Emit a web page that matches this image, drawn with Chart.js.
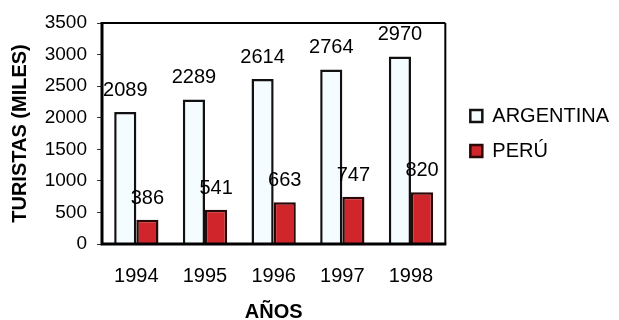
<!DOCTYPE html>
<html>
<head>
<meta charset="utf-8">
<script src="https://cdn.jsdelivr.net/npm/chart.js@4/dist/chart.umd.min.js"></script>
<style>
  html, body { margin: 0; padding: 0; background: #fff; }
  #wrap { width: 619px; height: 320px; }
</style>
</head>
<body>
<div id="wrap"><canvas id="chart" width="619" height="320"></canvas></div>
<script>
// Turistas (miles) por año
const years = ['1994', '1995', '1996', '1997', '1998'];
const argentina = [2089, 2289, 2614, 2764, 2970];
const peru = [386, 541, 663, 747, 820];
const yMin = 0;
const yMax = 3500;
const yStep = 500;

const FONT = '"Liberation Sans", Arial, sans-serif';
const INK = '#000';

// Box around the plot area
const plotFrame = {
  id: 'plotFrame',
  afterDatasetsDraw(chart) {
    const { ctx, chartArea: a } = chart;
    ctx.save();
    ctx.strokeStyle = '#000';
    ctx.lineWidth = 2;
    ctx.beginPath();
    ctx.moveTo(a.left, a.top); ctx.lineTo(a.right, a.top);
    ctx.moveTo(a.right, a.top); ctx.lineTo(a.right, a.bottom);
    ctx.stroke();
    ctx.lineWidth = 3;
    ctx.beginPath();
    ctx.moveTo(a.left, a.top - 1); ctx.lineTo(a.left, a.bottom);
    ctx.lineTo(a.right + 1, a.bottom);
    ctx.stroke();
    ctx.restore();
  }
};

// Value written above each bar
const valueLabels = {
  id: 'valueLabels',
  afterDatasetsDraw(chart) {
    const ctx = chart.ctx;
    ctx.save();
    ctx.font = '20px ' + FONT;
    ctx.fillStyle = INK;
    ctx.textAlign = 'center';
    ctx.textBaseline = 'alphabetic';
    chart.data.datasets.forEach((ds, i) => {
      chart.getDatasetMeta(i).data.forEach((bar, j) => {
        ctx.fillText(String(ds.data[j]), bar.x, bar.y - 16);
      });
    });
    ctx.restore();
  }
};

new Chart(document.getElementById('chart'), {
  type: 'bar',
  data: {
    labels: years,
    datasets: [
      {
        label: 'ARGENTINA',
        data: argentina,
        backgroundColor: '#f4fcff',
        borderColor: '#111',
        borderWidth: 2.5,
        categoryPercentage: 0.645,
        barPercentage: 1.0
      },
      {
        label: 'PERÚ',
        data: peru,
        backgroundColor: '#d0262b',
        borderColor: '#2a0808',
        borderWidth: 2.5,
        categoryPercentage: 0.645,
        barPercentage: 1.0
      }
    ]
  },
  options: {
    responsive: false,
    animation: false,
    devicePixelRatio: 1,
    layout: { padding: { top: 23, left: 0, right: 0, bottom: 0 } },
    plugins: {
      legend: {
        position: 'right',
        fullSize: false,
        align: 'center',
        maxWidth: 200,
        labels: {
          font: { family: FONT, size: 20 },
          color: INK,
          boxWidth: 12,
          boxHeight: 12,
          padding: 15
        }
      },
      tooltip: { enabled: false }
    },
    scales: {
      x: {
        grid: { display: false, drawTicks: false },
        border: { display: false },
        ticks: { font: { family: FONT, size: 20 }, color: INK, padding: 20 },
        title: {
          display: true,
          text: 'AÑOS',
          font: { family: FONT, size: 20, weight: 'bold', lineHeight: 0.8 },
          color: INK,
          padding: { top: 0, bottom: 0 }
        },
        afterFit(s) { s.height = 76; }
      },
      y: {
        min: yMin,
        max: yMax,
        grid: { drawOnChartArea: false, drawTicks: true, tickLength: 5, color: '#333' },
        border: { display: false },
        ticks: {
          stepSize: yStep,
          font: { family: FONT, size: 19 },
          color: INK,
          padding: 10,
          callback: v => String(v)
        },
        title: {
          display: true,
          text: 'TURISTAS (MILES)',
          font: { family: FONT, size: 20, weight: 'bold' },
          color: INK,
          padding: { top: 8, bottom: 0 }
        },
        afterFit(s) { s.width = 102; }
      },
      gap: {
        position: 'right',
        display: true,
        grid: { display: false },
        border: { display: false },
        ticks: { display: false },
        afterFit(s) { s.width = 10; }
      }
    }
  },
  plugins: [plotFrame, valueLabels]
});
</script>
</body>
</html>
